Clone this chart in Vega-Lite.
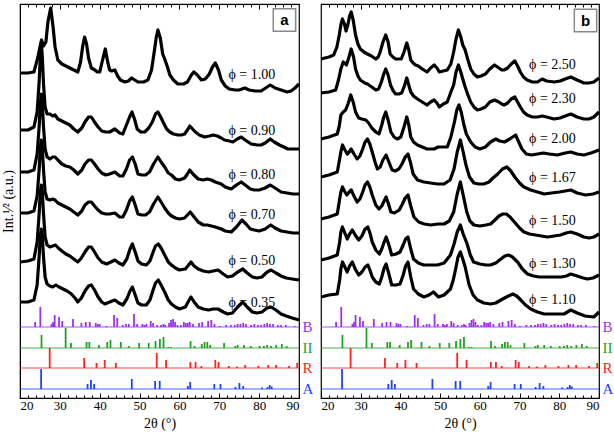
{
"$schema": "https://vega.github.io/schema/vega-lite/v6.json",
"background": "white",
"padding": {"left": 0, "top": 2, "right": 0, "bottom": 0},
"spacing": 3,
"resolve": {"scale": {"y": "independent", "x": "independent", "color": "shared"}},
"config": {
  "view": {"stroke": "black", "strokeWidth": 1.2},
  "axis": {"grid": false, "domain": false, "tickColor": "black", "labelColor": "black", "titleColor": "black", "labelFont": "Liberation Serif", "titleFont": "Liberation Serif", "titleFontWeight": "normal"},
  "text": {"font": "Liberation Serif"}
},
"datasets": {
  "ca": [
    {"s":"1.00","t":20,"y":329},{"s":"1.00","t":22,"y":329},{"s":"1.00","t":23.5,"y":330},{"s":"1.00","t":24.5,"y":345},{"s":"1.00","t":25.0,"y":355},{"s":"1.00","t":25.4,"y":362},{"s":"1.00","t":25.9,"y":356},{"s":"1.00","t":26.5,"y":360},{"s":"1.00","t":27.0,"y":380},{"s":"1.00","t":27.7,"y":394},{"s":"1.00","t":28.3,"y":375},{"s":"1.00","t":28.8,"y":355},{"s":"1.00","t":29.5,"y":342},{"s":"1.00","t":30.5,"y":338},{"s":"1.00","t":31.5,"y":336},{"s":"1.00","t":32.5,"y":334},{"s":"1.00","t":33.5,"y":332},{"s":"1.00","t":34.5,"y":330},{"s":"1.00","t":35.2,"y":340},{"s":"1.00","t":35.7,"y":355},{"s":"1.00","t":36.2,"y":365},{"s":"1.00","t":36.7,"y":358},{"s":"1.00","t":37.2,"y":344},{"s":"1.00","t":37.9,"y":334},{"s":"1.00","t":38.8,"y":332},{"s":"1.00","t":39.4,"y":330},{"s":"1.00","t":40.0,"y":330},{"s":"1.00","t":40.6,"y":340},{"s":"1.00","t":41.4,"y":353},{"s":"1.00","t":42.0,"y":340},{"s":"1.00","t":42.5,"y":332},{"s":"1.00","t":43.0,"y":331},{"s":"1.00","t":43.8,"y":332},{"s":"1.00","t":44.5,"y":326},{"s":"1.00","t":45.2,"y":322},{"s":"1.00","t":46.3,"y":320},{"s":"1.00","t":47.2,"y":321},{"s":"1.00","t":48.0,"y":324},{"s":"1.00","t":48.8,"y":322},{"s":"1.00","t":49.6,"y":320},{"s":"1.00","t":51.0,"y":320},{"s":"1.00","t":52.1,"y":322},{"s":"1.00","t":53.0,"y":332},{"s":"1.00","t":53.6,"y":348},{"s":"1.00","t":54.2,"y":365},{"s":"1.00","t":54.6,"y":372},{"s":"1.00","t":55.2,"y":364},{"s":"1.00","t":55.8,"y":348},{"s":"1.00","t":56.3,"y":343},{"s":"1.00","t":57.0,"y":335},{"s":"1.00","t":57.6,"y":327},{"s":"1.00","t":58.5,"y":322},{"s":"1.00","t":59.6,"y":318},{"s":"1.00","t":61.0,"y":318},{"s":"1.00","t":62.0,"y":320},{"s":"1.00","t":63.0,"y":327},{"s":"1.00","t":63.6,"y":330},{"s":"1.00","t":64.5,"y":327},{"s":"1.00","t":65.5,"y":322},{"s":"1.00","t":66.5,"y":323},{"s":"1.00","t":67.5,"y":328},{"s":"1.00","t":68.3,"y":335},{"s":"1.00","t":69.0,"y":339},{"s":"1.00","t":69.8,"y":332},{"s":"1.00","t":70.5,"y":322},{"s":"1.00","t":71.5,"y":316},{"s":"1.00","t":72.5,"y":313},{"s":"1.00","t":74.0,"y":312},{"s":"1.00","t":75.0,"y":312},{"s":"1.00","t":76.4,"y":314},{"s":"1.00","t":77.5,"y":312},{"s":"1.00","t":79.0,"y":311},{"s":"1.00","t":80.5,"y":311},{"s":"1.00","t":82.0,"y":315},{"s":"1.00","t":82.8,"y":317},{"s":"1.00","t":84.0,"y":314},{"s":"1.00","t":85.5,"y":312},{"s":"1.00","t":87.0,"y":310},{"s":"1.00","t":88.0,"y":311},{"s":"1.00","t":89.0,"y":314},{"s":"1.00","t":90.0,"y":318},
    {"s":"0.90","t":20,"y":272},{"s":"0.90","t":22,"y":272},{"s":"0.90","t":23.5,"y":275},{"s":"0.90","t":24.3,"y":290},{"s":"0.90","t":24.8,"y":320},{"s":"0.90","t":25.1,"y":345},{"s":"0.90","t":25.35,"y":360},{"s":"0.90","t":25.6,"y":345},{"s":"0.90","t":25.9,"y":318},{"s":"0.90","t":26.3,"y":295},{"s":"0.90","t":26.8,"y":288},{"s":"0.90","t":27.5,"y":288},{"s":"0.90","t":28.2,"y":286},{"s":"0.90","t":28.8,"y":287},{"s":"0.90","t":29.5,"y":283},{"s":"0.90","t":30.5,"y":281},{"s":"0.90","t":31.5,"y":279},{"s":"0.90","t":32.5,"y":277},{"s":"0.90","t":33.5,"y":273},{"s":"0.90","t":34.5,"y":270},{"s":"0.90","t":35.5,"y":274},{"s":"0.90","t":36.3,"y":280},{"s":"0.90","t":37.2,"y":285},{"s":"0.90","t":37.9,"y":285},{"s":"0.90","t":38.7,"y":280},{"s":"0.90","t":39.6,"y":275},{"s":"0.90","t":40.5,"y":271},{"s":"0.90","t":41.5,"y":270},{"s":"0.90","t":42.5,"y":270},{"s":"0.90","t":43.8,"y":273},{"s":"0.90","t":45.0,"y":269},{"s":"0.90","t":45.8,"y":268},{"s":"0.90","t":46.7,"y":277},{"s":"0.90","t":47.5,"y":285},{"s":"0.90","t":48.1,"y":290},{"s":"0.90","t":48.8,"y":282},{"s":"0.90","t":49.4,"y":273},{"s":"0.90","t":50.3,"y":270},{"s":"0.90","t":51.3,"y":270},{"s":"0.90","t":52.3,"y":274},{"s":"0.90","t":53.2,"y":280},{"s":"0.90","t":54.0,"y":288},{"s":"0.90","t":54.6,"y":290},{"s":"0.90","t":55.3,"y":285},{"s":"0.90","t":55.9,"y":280},{"s":"0.90","t":56.8,"y":273},{"s":"0.90","t":57.6,"y":270},{"s":"0.90","t":58.5,"y":268},{"s":"0.90","t":59.6,"y":267},{"s":"0.90","t":60.5,"y":267},{"s":"0.90","t":61.3,"y":268},{"s":"0.90","t":62.0,"y":272},{"s":"0.90","t":62.6,"y":276},{"s":"0.90","t":63.3,"y":273},{"s":"0.90","t":64.0,"y":270},{"s":"0.90","t":65.0,"y":267},{"s":"0.90","t":66.3,"y":265},{"s":"0.90","t":67.5,"y":266},{"s":"0.90","t":68.5,"y":267},{"s":"0.90","t":69.5,"y":266},{"s":"0.90","t":70.5,"y":264},{"s":"0.90","t":71.3,"y":262},{"s":"0.90","t":72.5,"y":261},{"s":"0.90","t":73.4,"y":260},{"s":"0.90","t":74.5,"y":263},{"s":"0.90","t":75.5,"y":265},{"s":"0.90","t":76.5,"y":262},{"s":"0.90","t":78.0,"y":258},{"s":"0.90","t":79.5,"y":257},{"s":"0.90","t":80.5,"y":257},{"s":"0.90","t":81.5,"y":259},{"s":"0.90","t":82.8,"y":263},{"s":"0.90","t":83.8,"y":260},{"s":"0.90","t":85.1,"y":257},{"s":"0.90","t":86.2,"y":255},{"s":"0.90","t":87.2,"y":253},{"s":"0.90","t":88.5,"y":253},{"s":"0.90","t":90,"y":253},
    {"s":"0.80","t":20,"y":230},{"s":"0.80","t":22,"y":230},{"s":"0.80","t":23.5,"y":232},{"s":"0.80","t":24.3,"y":248},{"s":"0.80","t":24.8,"y":275},{"s":"0.80","t":25.1,"y":298},{"s":"0.80","t":25.35,"y":308},{"s":"0.80","t":25.6,"y":298},{"s":"0.80","t":25.9,"y":275},{"s":"0.80","t":26.3,"y":253},{"s":"0.80","t":26.8,"y":245},{"s":"0.80","t":27.5,"y":243},{"s":"0.80","t":28.2,"y":245},{"s":"0.80","t":28.8,"y":245},{"s":"0.80","t":29.5,"y":242},{"s":"0.80","t":30.5,"y":238},{"s":"0.80","t":31.5,"y":236},{"s":"0.80","t":32.5,"y":235},{"s":"0.80","t":33.5,"y":232},{"s":"0.80","t":34.5,"y":228},{"s":"0.80","t":35.5,"y":232},{"s":"0.80","t":36.3,"y":238},{"s":"0.80","t":37.2,"y":242},{"s":"0.80","t":37.9,"y":242},{"s":"0.80","t":38.7,"y":238},{"s":"0.80","t":39.6,"y":233},{"s":"0.80","t":40.5,"y":229},{"s":"0.80","t":41.5,"y":227},{"s":"0.80","t":42.5,"y":228},{"s":"0.80","t":43.8,"y":230},{"s":"0.80","t":45.0,"y":226},{"s":"0.80","t":45.8,"y":226},{"s":"0.80","t":46.7,"y":233},{"s":"0.80","t":47.5,"y":242},{"s":"0.80","t":48.2,"y":245},{"s":"0.80","t":48.9,"y":238},{"s":"0.80","t":49.6,"y":228},{"s":"0.80","t":50.5,"y":227},{"s":"0.80","t":51.5,"y":227},{"s":"0.80","t":52.5,"y":230},{"s":"0.80","t":53.5,"y":238},{"s":"0.80","t":54.6,"y":245},{"s":"0.80","t":55.4,"y":240},{"s":"0.80","t":56.3,"y":235},{"s":"0.80","t":57.2,"y":229},{"s":"0.80","t":58.0,"y":227},{"s":"0.80","t":59.0,"y":223},{"s":"0.80","t":60.0,"y":222},{"s":"0.80","t":61.3,"y":224},{"s":"0.80","t":62.0,"y":228},{"s":"0.80","t":62.6,"y":232},{"s":"0.80","t":63.4,"y":228},{"s":"0.80","t":64.7,"y":223},{"s":"0.80","t":66.0,"y":222},{"s":"0.80","t":67.0,"y":223},{"s":"0.80","t":68.0,"y":222},{"s":"0.80","t":69.0,"y":220},{"s":"0.80","t":70.5,"y":218},{"s":"0.80","t":71.5,"y":215},{"s":"0.80","t":73.0,"y":213},{"s":"0.80","t":74.3,"y":217},{"s":"0.80","t":75.5,"y":220},{"s":"0.80","t":76.5,"y":217},{"s":"0.80","t":77.8,"y":213},{"s":"0.80","t":78.8,"y":212},{"s":"0.80","t":80.0,"y":212},{"s":"0.80","t":81.5,"y":214},{"s":"0.80","t":82.8,"y":217},{"s":"0.80","t":84.0,"y":214},{"s":"0.80","t":85.5,"y":210},{"s":"0.80","t":87.0,"y":209},{"s":"0.80","t":88.5,"y":208},{"s":"0.80","t":90,"y":208},
    {"s":"0.70","t":20,"y":189},{"s":"0.70","t":22,"y":189},{"s":"0.70","t":23.5,"y":191},{"s":"0.70","t":24.3,"y":206},{"s":"0.70","t":24.8,"y":232},{"s":"0.70","t":25.1,"y":254},{"s":"0.70","t":25.35,"y":262},{"s":"0.70","t":25.6,"y":254},{"s":"0.70","t":25.9,"y":232},{"s":"0.70","t":26.3,"y":210},{"s":"0.70","t":26.8,"y":203},{"s":"0.70","t":27.5,"y":202},{"s":"0.70","t":28.2,"y":203},{"s":"0.70","t":28.8,"y":202},{"s":"0.70","t":29.5,"y":199},{"s":"0.70","t":30.5,"y":197},{"s":"0.70","t":31.5,"y":195},{"s":"0.70","t":32.5,"y":193},{"s":"0.70","t":33.5,"y":190},{"s":"0.70","t":34.5,"y":187},{"s":"0.70","t":35.5,"y":191},{"s":"0.70","t":36.3,"y":197},{"s":"0.70","t":37.2,"y":200},{"s":"0.70","t":37.9,"y":200},{"s":"0.70","t":38.7,"y":196},{"s":"0.70","t":39.6,"y":192},{"s":"0.70","t":40.5,"y":189},{"s":"0.70","t":41.5,"y":188},{"s":"0.70","t":42.5,"y":188},{"s":"0.70","t":43.8,"y":189},{"s":"0.70","t":45.0,"y":185},{"s":"0.70","t":45.8,"y":185},{"s":"0.70","t":46.7,"y":192},{"s":"0.70","t":47.5,"y":201},{"s":"0.70","t":48.2,"y":205},{"s":"0.70","t":48.9,"y":197},{"s":"0.70","t":49.6,"y":188},{"s":"0.70","t":50.5,"y":187},{"s":"0.70","t":51.5,"y":187},{"s":"0.70","t":52.5,"y":190},{"s":"0.70","t":53.5,"y":198},{"s":"0.70","t":54.6,"y":205},{"s":"0.70","t":55.4,"y":200},{"s":"0.70","t":56.3,"y":194},{"s":"0.70","t":57.2,"y":189},{"s":"0.70","t":58.0,"y":186},{"s":"0.70","t":59.0,"y":184},{"s":"0.70","t":60.0,"y":183},{"s":"0.70","t":61.3,"y":184},{"s":"0.70","t":62.0,"y":187},{"s":"0.70","t":62.7,"y":190},{"s":"0.70","t":63.5,"y":186},{"s":"0.70","t":64.7,"y":180},{"s":"0.70","t":66.0,"y":177},{"s":"0.70","t":67.0,"y":177},{"s":"0.70","t":68.0,"y":176},{"s":"0.70","t":69.0,"y":175},{"s":"0.70","t":70.5,"y":173},{"s":"0.70","t":71.5,"y":171},{"s":"0.70","t":73.0,"y":170},{"s":"0.70","t":74.3,"y":175},{"s":"0.70","t":75.7,"y":182},{"s":"0.70","t":76.7,"y":178},{"s":"0.70","t":77.8,"y":173},{"s":"0.70","t":78.8,"y":172},{"s":"0.70","t":80.0,"y":171},{"s":"0.70","t":81.5,"y":173},{"s":"0.70","t":82.9,"y":177},{"s":"0.70","t":84.0,"y":174},{"s":"0.70","t":85.5,"y":171},{"s":"0.70","t":87.0,"y":170},{"s":"0.70","t":88.5,"y":169},{"s":"0.70","t":90,"y":169},
    {"s":"0.50","t":20,"y":140},{"s":"0.50","t":22,"y":141},{"s":"0.50","t":23.5,"y":143},{"s":"0.50","t":24.3,"y":160},{"s":"0.50","t":24.8,"y":188},{"s":"0.50","t":25.1,"y":210},{"s":"0.50","t":25.35,"y":217},{"s":"0.50","t":25.6,"y":210},{"s":"0.50","t":25.9,"y":188},{"s":"0.50","t":26.3,"y":165},{"s":"0.50","t":26.8,"y":157},{"s":"0.50","t":27.5,"y":155},{"s":"0.50","t":28.2,"y":156},{"s":"0.50","t":28.9,"y":157},{"s":"0.50","t":29.6,"y":154},{"s":"0.50","t":30.5,"y":151},{"s":"0.50","t":31.5,"y":148},{"s":"0.50","t":32.5,"y":146},{"s":"0.50","t":33.5,"y":143},{"s":"0.50","t":34.5,"y":140},{"s":"0.50","t":35.4,"y":144},{"s":"0.50","t":36.3,"y":150},{"s":"0.50","t":37.2,"y":155},{"s":"0.50","t":37.9,"y":155},{"s":"0.50","t":38.7,"y":150},{"s":"0.50","t":39.6,"y":144},{"s":"0.50","t":40.5,"y":140},{"s":"0.50","t":41.7,"y":138},{"s":"0.50","t":42.8,"y":140},{"s":"0.50","t":43.8,"y":142},{"s":"0.50","t":44.8,"y":139},{"s":"0.50","t":45.8,"y":137},{"s":"0.50","t":46.8,"y":143},{"s":"0.50","t":47.6,"y":153},{"s":"0.50","t":48.2,"y":158},{"s":"0.50","t":48.9,"y":150},{"s":"0.50","t":49.6,"y":141},{"s":"0.50","t":50.5,"y":138},{"s":"0.50","t":51.7,"y":137},{"s":"0.50","t":52.6,"y":141},{"s":"0.50","t":53.4,"y":150},{"s":"0.50","t":54.0,"y":156},{"s":"0.50","t":54.7,"y":158},{"s":"0.50","t":55.4,"y":154},{"s":"0.50","t":56.3,"y":147},{"s":"0.50","t":57.2,"y":140},{"s":"0.50","t":58.0,"y":137},{"s":"0.50","t":59.0,"y":134},{"s":"0.50","t":60.0,"y":132},{"s":"0.50","t":61.5,"y":133},{"s":"0.50","t":62.3,"y":137},{"s":"0.50","t":62.9,"y":140},{"s":"0.50","t":63.7,"y":136},{"s":"0.50","t":64.7,"y":133},{"s":"0.50","t":66.0,"y":131},{"s":"0.50","t":67.3,"y":130},{"s":"0.50","t":68.5,"y":131},{"s":"0.50","t":69.7,"y":132},{"s":"0.50","t":71.0,"y":128},{"s":"0.50","t":72.1,"y":125},{"s":"0.50","t":73.3,"y":126},{"s":"0.50","t":74.6,"y":130},{"s":"0.50","t":75.9,"y":133},{"s":"0.50","t":77.0,"y":129},{"s":"0.50","t":78.3,"y":125},{"s":"0.50","t":79.5,"y":124},{"s":"0.50","t":80.7,"y":125},{"s":"0.50","t":82.0,"y":130},{"s":"0.50","t":83.0,"y":132},{"s":"0.50","t":84.2,"y":129},{"s":"0.50","t":85.5,"y":126},{"s":"0.50","t":86.8,"y":124},{"s":"0.50","t":88.3,"y":123},{"s":"0.50","t":90,"y":122},
    {"s":"0.35","t":20,"y":100},{"s":"0.35","t":22,"y":100},{"s":"0.35","t":23.5,"y":102},{"s":"0.35","t":24.3,"y":117},{"s":"0.35","t":24.8,"y":145},{"s":"0.35","t":25.1,"y":166},{"s":"0.35","t":25.35,"y":173},{"s":"0.35","t":25.6,"y":166},{"s":"0.35","t":25.9,"y":145},{"s":"0.35","t":26.3,"y":125},{"s":"0.35","t":26.8,"y":118},{"s":"0.35","t":27.5,"y":116},{"s":"0.35","t":28.2,"y":115},{"s":"0.35","t":29.0,"y":117},{"s":"0.35","t":29.8,"y":115},{"s":"0.35","t":30.8,"y":113},{"s":"0.35","t":31.8,"y":111},{"s":"0.35","t":32.9,"y":108},{"s":"0.35","t":33.8,"y":104},{"s":"0.35","t":34.5,"y":100},{"s":"0.35","t":35.4,"y":104},{"s":"0.35","t":36.3,"y":111},{"s":"0.35","t":37.2,"y":116},{"s":"0.35","t":37.9,"y":117},{"s":"0.35","t":38.7,"y":112},{"s":"0.35","t":39.6,"y":105},{"s":"0.35","t":40.5,"y":100},{"s":"0.35","t":41.3,"y":98},{"s":"0.35","t":42.5,"y":100},{"s":"0.35","t":43.8,"y":102},{"s":"0.35","t":44.8,"y":99},{"s":"0.35","t":45.8,"y":97},{"s":"0.35","t":46.8,"y":103},{"s":"0.35","t":47.6,"y":111},{"s":"0.35","t":48.2,"y":115},{"s":"0.35","t":48.9,"y":107},{"s":"0.35","t":49.6,"y":99},{"s":"0.35","t":50.5,"y":97},{"s":"0.35","t":51.7,"y":97},{"s":"0.35","t":52.6,"y":102},{"s":"0.35","t":53.4,"y":112},{"s":"0.35","t":54.0,"y":119},{"s":"0.35","t":54.7,"y":122},{"s":"0.35","t":55.4,"y":117},{"s":"0.35","t":56.3,"y":110},{"s":"0.35","t":57.2,"y":102},{"s":"0.35","t":58.0,"y":98},{"s":"0.35","t":59.0,"y":95},{"s":"0.35","t":60.0,"y":93},{"s":"0.35","t":61.5,"y":95},{"s":"0.35","t":62.3,"y":101},{"s":"0.35","t":62.9,"y":105},{"s":"0.35","t":63.7,"y":100},{"s":"0.35","t":64.7,"y":95},{"s":"0.35","t":66.0,"y":93},{"s":"0.35","t":67.3,"y":92},{"s":"0.35","t":68.5,"y":93},{"s":"0.35","t":69.7,"y":93},{"s":"0.35","t":71.0,"y":90},{"s":"0.35","t":72.1,"y":88},{"s":"0.35","t":73.3,"y":89},{"s":"0.35","t":74.6,"y":95},{"s":"0.35","t":75.9,"y":100},{"s":"0.35","t":77.0,"y":95},{"s":"0.35","t":78.3,"y":90},{"s":"0.35","t":79.5,"y":89},{"s":"0.35","t":80.7,"y":90},{"s":"0.35","t":82.0,"y":94},{"s":"0.35","t":83.0,"y":95},{"s":"0.35","t":84.2,"y":92},{"s":"0.35","t":85.5,"y":88},{"s":"0.35","t":86.8,"y":86},{"s":"0.35","t":88.3,"y":84},{"s":"0.35","t":90,"y":82}
  ],
  "cb": [
    {"s":"2.50","t":20,"y":343},{"s":"2.50","t":22,"y":345},{"s":"2.50","t":23.2,"y":347},{"s":"2.50","t":24.0,"y":355},{"s":"2.50","t":24.6,"y":367},{"s":"2.50","t":25.0,"y":377},{"s":"2.50","t":25.4,"y":383},{"s":"2.50","t":25.9,"y":378},{"s":"2.50","t":26.3,"y":371},{"s":"2.50","t":26.8,"y":378},{"s":"2.50","t":27.2,"y":386},{"s":"2.50","t":27.6,"y":390},{"s":"2.50","t":28.1,"y":382},{"s":"2.50","t":28.7,"y":367},{"s":"2.50","t":29.3,"y":358},{"s":"2.50","t":29.9,"y":353},{"s":"2.50","t":30.8,"y":350},{"s":"2.50","t":31.7,"y":348},{"s":"2.50","t":32.7,"y":346},{"s":"2.50","t":33.8,"y":343},{"s":"2.50","t":34.4,"y":345},{"s":"2.50","t":34.9,"y":350},{"s":"2.50","t":35.6,"y":360},{"s":"2.50","t":36.3,"y":367},{"s":"2.50","t":36.9,"y":360},{"s":"2.50","t":37.4,"y":348},{"s":"2.50","t":38.1,"y":345},{"s":"2.50","t":38.8,"y":343},{"s":"2.50","t":39.5,"y":343},{"s":"2.50","t":40.2,"y":343},{"s":"2.50","t":40.9,"y":350},{"s":"2.50","t":41.6,"y":359},{"s":"2.50","t":42.1,"y":352},{"s":"2.50","t":42.6,"y":342},{"s":"2.50","t":43.2,"y":339},{"s":"2.50","t":43.8,"y":337},{"s":"2.50","t":44.5,"y":336},{"s":"2.50","t":45.5,"y":333},{"s":"2.50","t":46.7,"y":330},{"s":"2.50","t":47.6,"y":334},{"s":"2.50","t":48.5,"y":337},{"s":"2.50","t":49.2,"y":334},{"s":"2.50","t":49.8,"y":330},{"s":"2.50","t":50.8,"y":331},{"s":"2.50","t":51.8,"y":332},{"s":"2.50","t":52.7,"y":338},{"s":"2.50","t":53.4,"y":350},{"s":"2.50","t":54.0,"y":363},{"s":"2.50","t":54.6,"y":372},{"s":"2.50","t":55.2,"y":365},{"s":"2.50","t":55.7,"y":357},{"s":"2.50","t":56.3,"y":352},{"s":"2.50","t":57.0,"y":342},{"s":"2.50","t":57.7,"y":333},{"s":"2.50","t":58.5,"y":328},{"s":"2.50","t":59.4,"y":325},{"s":"2.50","t":60.3,"y":326},{"s":"2.50","t":61.4,"y":328},{"s":"2.50","t":62.5,"y":333},{"s":"2.50","t":63.7,"y":337},{"s":"2.50","t":64.8,"y":334},{"s":"2.50","t":65.5,"y":332},{"s":"2.50","t":66.1,"y":332},{"s":"2.50","t":67.0,"y":334},{"s":"2.50","t":67.9,"y":338},{"s":"2.50","t":68.8,"y":341},{"s":"2.50","t":69.5,"y":336},{"s":"2.50","t":70.2,"y":330},{"s":"2.50","t":71.0,"y":325},{"s":"2.50","t":71.9,"y":322},{"s":"2.50","t":73.2,"y":320},{"s":"2.50","t":74.5,"y":320},{"s":"2.50","t":75.7,"y":323},{"s":"2.50","t":76.8,"y":321},{"s":"2.50","t":78.7,"y":320},{"s":"2.50","t":80.2,"y":321},{"s":"2.50","t":81.5,"y":323},{"s":"2.50","t":82.9,"y":325},{"s":"2.50","t":84.5,"y":322},{"s":"2.50","t":86.2,"y":319},{"s":"2.50","t":87.5,"y":319},{"s":"2.50","t":88.7,"y":320},{"s":"2.50","t":90,"y":324},
    {"s":"2.30","t":20,"y":309},{"s":"2.30","t":22,"y":310},{"s":"2.30","t":23.7,"y":312},{"s":"2.30","t":24.4,"y":322},{"s":"2.30","t":25.0,"y":333},{"s":"2.30","t":25.6,"y":340},{"s":"2.30","t":26.0,"y":339},{"s":"2.30","t":26.4,"y":337},{"s":"2.30","t":26.9,"y":343},{"s":"2.30","t":27.6,"y":353},{"s":"2.30","t":28.2,"y":345},{"s":"2.30","t":28.7,"y":333},{"s":"2.30","t":29.3,"y":326},{"s":"2.30","t":29.9,"y":322},{"s":"2.30","t":31.0,"y":319},{"s":"2.30","t":31.7,"y":318},{"s":"2.30","t":32.8,"y":315},{"s":"2.30","t":33.8,"y":312},{"s":"2.30","t":34.5,"y":313},{"s":"2.30","t":35.2,"y":320},{"s":"2.30","t":35.8,"y":328},{"s":"2.30","t":36.3,"y":333},{"s":"2.30","t":36.9,"y":327},{"s":"2.30","t":37.5,"y":317},{"s":"2.30","t":38.2,"y":311},{"s":"2.30","t":38.8,"y":308},{"s":"2.30","t":39.6,"y":308},{"s":"2.30","t":40.3,"y":309},{"s":"2.30","t":41.0,"y":316},{"s":"2.30","t":41.6,"y":324},{"s":"2.30","t":42.1,"y":317},{"s":"2.30","t":42.6,"y":310},{"s":"2.30","t":43.3,"y":306},{"s":"2.30","t":44.3,"y":303},{"s":"2.30","t":45.5,"y":300},{"s":"2.30","t":46.7,"y":297},{"s":"2.30","t":47.6,"y":300},{"s":"2.30","t":48.5,"y":302},{"s":"2.30","t":49.2,"y":299},{"s":"2.30","t":49.8,"y":295},{"s":"2.30","t":50.8,"y":298},{"s":"2.30","t":51.8,"y":300},{"s":"2.30","t":52.7,"y":310},{"s":"2.30","t":53.4,"y":317},{"s":"2.30","t":54.0,"y":330},{"s":"2.30","t":54.6,"y":337},{"s":"2.30","t":55.2,"y":330},{"s":"2.30","t":55.7,"y":323},{"s":"2.30","t":56.3,"y":315},{"s":"2.30","t":57.0,"y":307},{"s":"2.30","t":57.7,"y":300},{"s":"2.30","t":58.5,"y":295},{"s":"2.30","t":59.4,"y":292},{"s":"2.30","t":60.3,"y":293},{"s":"2.30","t":61.4,"y":295},{"s":"2.30","t":62.5,"y":300},{"s":"2.30","t":63.7,"y":302},{"s":"2.30","t":64.8,"y":300},{"s":"2.30","t":65.5,"y":298},{"s":"2.30","t":66.1,"y":297},{"s":"2.30","t":67.0,"y":299},{"s":"2.30","t":67.9,"y":303},{"s":"2.30","t":68.8,"y":305},{"s":"2.30","t":69.5,"y":300},{"s":"2.30","t":70.2,"y":295},{"s":"2.30","t":71.0,"y":290},{"s":"2.30","t":71.9,"y":287},{"s":"2.30","t":73.2,"y":285},{"s":"2.30","t":74.5,"y":285},{"s":"2.30","t":75.7,"y":286},{"s":"2.30","t":76.8,"y":285},{"s":"2.30","t":78.7,"y":283},{"s":"2.30","t":80.2,"y":284},{"s":"2.30","t":81.5,"y":286},{"s":"2.30","t":82.9,"y":288},{"s":"2.30","t":84.5,"y":285},{"s":"2.30","t":86.2,"y":283},{"s":"2.30","t":87.5,"y":283},{"s":"2.30","t":88.7,"y":285},{"s":"2.30","t":90,"y":290},
    {"s":"2.00","t":20,"y":263},{"s":"2.00","t":22,"y":265},{"s":"2.00","t":24.1,"y":268},{"s":"2.00","t":24.6,"y":276},{"s":"2.00","t":25.0,"y":287},{"s":"2.00","t":25.6,"y":290},{"s":"2.00","t":26.2,"y":292},{"s":"2.00","t":26.8,"y":298},{"s":"2.00","t":27.5,"y":307},{"s":"2.00","t":28.1,"y":300},{"s":"2.00","t":28.7,"y":290},{"s":"2.00","t":29.5,"y":284},{"s":"2.00","t":30.3,"y":283},{"s":"2.00","t":31.3,"y":282},{"s":"2.00","t":32.0,"y":279},{"s":"2.00","t":32.8,"y":274},{"s":"2.00","t":33.8,"y":270},{"s":"2.00","t":34.6,"y":268},{"s":"2.00","t":35.3,"y":277},{"s":"2.00","t":35.8,"y":285},{"s":"2.00","t":36.3,"y":290},{"s":"2.00","t":36.9,"y":282},{"s":"2.00","t":37.6,"y":270},{"s":"2.00","t":38.4,"y":265},{"s":"2.00","t":39.2,"y":263},{"s":"2.00","t":40.1,"y":265},{"s":"2.00","t":40.9,"y":275},{"s":"2.00","t":41.6,"y":285},{"s":"2.00","t":42.1,"y":277},{"s":"2.00","t":42.6,"y":265},{"s":"2.00","t":43.3,"y":260},{"s":"2.00","t":44.3,"y":257},{"s":"2.00","t":45.5,"y":255},{"s":"2.00","t":46.7,"y":253},{"s":"2.00","t":48.5,"y":253},{"s":"2.00","t":49.5,"y":255},{"s":"2.00","t":50.5,"y":255},{"s":"2.00","t":51.8,"y":255},{"s":"2.00","t":52.7,"y":265},{"s":"2.00","t":53.6,"y":280},{"s":"2.00","t":54.2,"y":292},{"s":"2.00","t":54.75,"y":297},{"s":"2.00","t":55.3,"y":290},{"s":"2.00","t":56.0,"y":277},{"s":"2.00","t":56.6,"y":268},{"s":"2.00","t":57.7,"y":260},{"s":"2.00","t":58.8,"y":255},{"s":"2.00","t":60.0,"y":253},{"s":"2.00","t":61.4,"y":255},{"s":"2.00","t":62.7,"y":260},{"s":"2.00","t":64.0,"y":263},{"s":"2.00","t":65.0,"y":261},{"s":"2.00","t":66.2,"y":260},{"s":"2.00","t":67.5,"y":263},{"s":"2.00","t":69.0,"y":267},{"s":"2.00","t":69.8,"y":260},{"s":"2.00","t":70.6,"y":253},{"s":"2.00","t":71.7,"y":248},{"s":"2.00","t":73.0,"y":247},{"s":"2.00","t":74.5,"y":248},{"s":"2.00","t":76.0,"y":249},{"s":"2.00","t":77.5,"y":248},{"s":"2.00","t":79.5,"y":247},{"s":"2.00","t":81.5,"y":249},{"s":"2.00","t":82.9,"y":250},{"s":"2.00","t":84.5,"y":248},{"s":"2.00","t":86.2,"y":247},{"s":"2.00","t":88.0,"y":249},{"s":"2.00","t":90,"y":252},
    {"s":"1.67","t":20,"y":225},{"s":"1.67","t":22,"y":227},{"s":"1.67","t":24.1,"y":230},{"s":"1.67","t":24.7,"y":243},{"s":"1.67","t":25.0,"y":250},{"s":"1.67","t":25.4,"y":257},{"s":"1.67","t":25.9,"y":253},{"s":"1.67","t":26.6,"y":248},{"s":"1.67","t":27.1,"y":250},{"s":"1.67","t":27.6,"y":253},{"s":"1.67","t":28.3,"y":248},{"s":"1.67","t":29.1,"y":243},{"s":"1.67","t":29.8,"y":246},{"s":"1.67","t":30.5,"y":253},{"s":"1.67","t":31.1,"y":260},{"s":"1.67","t":31.7,"y":263},{"s":"1.67","t":32.3,"y":258},{"s":"1.67","t":32.9,"y":250},{"s":"1.67","t":33.6,"y":240},{"s":"1.67","t":34.2,"y":233},{"s":"1.67","t":34.9,"y":235},{"s":"1.67","t":35.6,"y":242},{"s":"1.67","t":36.4,"y":247},{"s":"1.67","t":37.1,"y":240},{"s":"1.67","t":37.9,"y":232},{"s":"1.67","t":38.7,"y":231},{"s":"1.67","t":39.6,"y":233},{"s":"1.67","t":40.4,"y":238},{"s":"1.67","t":41.2,"y":245},{"s":"1.67","t":41.9,"y":248},{"s":"1.67","t":42.5,"y":240},{"s":"1.67","t":43.2,"y":228},{"s":"1.67","t":44.3,"y":222},{"s":"1.67","t":45.9,"y":220},{"s":"1.67","t":47.6,"y":219},{"s":"1.67","t":49.3,"y":218},{"s":"1.67","t":51.0,"y":218},{"s":"1.67","t":52.5,"y":222},{"s":"1.67","t":53.5,"y":233},{"s":"1.67","t":54.3,"y":250},{"s":"1.67","t":55.1,"y":262},{"s":"1.67","t":55.8,"y":250},{"s":"1.67","t":56.5,"y":237},{"s":"1.67","t":57.4,"y":225},{"s":"1.67","t":58.5,"y":219},{"s":"1.67","t":59.7,"y":218},{"s":"1.67","t":61.0,"y":218},{"s":"1.67","t":62.3,"y":220},{"s":"1.67","t":63.3,"y":224},{"s":"1.67","t":64.5,"y":228},{"s":"1.67","t":65.7,"y":233},{"s":"1.67","t":66.8,"y":235},{"s":"1.67","t":67.8,"y":231},{"s":"1.67","t":68.8,"y":225},{"s":"1.67","t":70.0,"y":219},{"s":"1.67","t":71.1,"y":215},{"s":"1.67","t":72.8,"y":212},{"s":"1.67","t":74.5,"y":210},{"s":"1.67","t":76.2,"y":208},{"s":"1.67","t":78.0,"y":209},{"s":"1.67","t":80.0,"y":210},{"s":"1.67","t":81.5,"y":211},{"s":"1.67","t":82.9,"y":212},{"s":"1.67","t":84.5,"y":209},{"s":"1.67","t":86.6,"y":207},{"s":"1.67","t":88.5,"y":208},{"s":"1.67","t":90,"y":210},
    {"s":"1.50","t":20,"y":183},{"s":"1.50","t":22,"y":185},{"s":"1.50","t":24.1,"y":188},{"s":"1.50","t":24.7,"y":203},{"s":"1.50","t":25.0,"y":210},{"s":"1.50","t":25.4,"y":215},{"s":"1.50","t":25.9,"y":211},{"s":"1.50","t":26.5,"y":207},{"s":"1.50","t":27.1,"y":210},{"s":"1.50","t":27.6,"y":212},{"s":"1.50","t":28.3,"y":206},{"s":"1.50","t":29.1,"y":200},{"s":"1.50","t":29.8,"y":203},{"s":"1.50","t":30.5,"y":210},{"s":"1.50","t":31.1,"y":217},{"s":"1.50","t":31.7,"y":220},{"s":"1.50","t":32.3,"y":215},{"s":"1.50","t":32.9,"y":207},{"s":"1.50","t":33.8,"y":197},{"s":"1.50","t":34.6,"y":193},{"s":"1.50","t":35.3,"y":196},{"s":"1.50","t":35.9,"y":201},{"s":"1.50","t":36.4,"y":205},{"s":"1.50","t":37.0,"y":198},{"s":"1.50","t":37.6,"y":190},{"s":"1.50","t":38.5,"y":189},{"s":"1.50","t":39.7,"y":192},{"s":"1.50","t":40.5,"y":198},{"s":"1.50","t":41.2,"y":204},{"s":"1.50","t":41.9,"y":207},{"s":"1.50","t":42.6,"y":196},{"s":"1.50","t":43.4,"y":185},{"s":"1.50","t":44.6,"y":180},{"s":"1.50","t":46.0,"y":178},{"s":"1.50","t":47.6,"y":177},{"s":"1.50","t":49.5,"y":178},{"s":"1.50","t":51.0,"y":178},{"s":"1.50","t":52.3,"y":181},{"s":"1.50","t":53.4,"y":190},{"s":"1.50","t":54.3,"y":208},{"s":"1.50","t":55.1,"y":220},{"s":"1.50","t":55.8,"y":207},{"s":"1.50","t":56.7,"y":190},{"s":"1.50","t":57.5,"y":181},{"s":"1.50","t":58.5,"y":177},{"s":"1.50","t":60.0,"y":176},{"s":"1.50","t":61.5,"y":177},{"s":"1.50","t":62.7,"y":178},{"s":"1.50","t":63.8,"y":182},{"s":"1.50","t":64.8,"y":186},{"s":"1.50","t":65.8,"y":188},{"s":"1.50","t":66.7,"y":188},{"s":"1.50","t":67.6,"y":185},{"s":"1.50","t":68.7,"y":180},{"s":"1.50","t":70.0,"y":174},{"s":"1.50","t":71.1,"y":170},{"s":"1.50","t":72.5,"y":168},{"s":"1.50","t":74.0,"y":167},{"s":"1.50","t":75.5,"y":166},{"s":"1.50","t":77.0,"y":165},{"s":"1.50","t":78.7,"y":166},{"s":"1.50","t":80.3,"y":167},{"s":"1.50","t":81.7,"y":169},{"s":"1.50","t":82.9,"y":170},{"s":"1.50","t":84.5,"y":168},{"s":"1.50","t":86.2,"y":165},{"s":"1.50","t":87.5,"y":164},{"s":"1.50","t":88.7,"y":165},{"s":"1.50","t":90,"y":168},
    {"s":"1.30","t":20,"y":142},{"s":"1.30","t":22,"y":144},{"s":"1.30","t":24.1,"y":147},{"s":"1.30","t":24.7,"y":160},{"s":"1.30","t":25.0,"y":170},{"s":"1.30","t":25.4,"y":175},{"s":"1.30","t":25.9,"y":170},{"s":"1.30","t":26.6,"y":163},{"s":"1.30","t":27.2,"y":168},{"s":"1.30","t":27.9,"y":172},{"s":"1.30","t":28.6,"y":167},{"s":"1.30","t":29.5,"y":162},{"s":"1.30","t":30.3,"y":166},{"s":"1.30","t":31.1,"y":173},{"s":"1.30","t":31.8,"y":175},{"s":"1.30","t":32.4,"y":168},{"s":"1.30","t":32.9,"y":160},{"s":"1.30","t":33.8,"y":152},{"s":"1.30","t":34.7,"y":148},{"s":"1.30","t":35.3,"y":153},{"s":"1.30","t":35.9,"y":160},{"s":"1.30","t":36.4,"y":165},{"s":"1.30","t":37.1,"y":157},{"s":"1.30","t":37.8,"y":147},{"s":"1.30","t":38.9,"y":148},{"s":"1.30","t":39.9,"y":150},{"s":"1.30","t":40.7,"y":157},{"s":"1.30","t":41.3,"y":163},{"s":"1.30","t":41.9,"y":165},{"s":"1.30","t":42.6,"y":153},{"s":"1.30","t":43.3,"y":143},{"s":"1.30","t":44.5,"y":139},{"s":"1.30","t":45.9,"y":137},{"s":"1.30","t":47.5,"y":137},{"s":"1.30","t":49.3,"y":137},{"s":"1.30","t":51.0,"y":139},{"s":"1.30","t":52.6,"y":147},{"s":"1.30","t":53.5,"y":158},{"s":"1.30","t":54.3,"y":170},{"s":"1.30","t":55.1,"y":177},{"s":"1.30","t":55.8,"y":168},{"s":"1.30","t":56.8,"y":158},{"s":"1.30","t":57.6,"y":147},{"s":"1.30","t":58.4,"y":140},{"s":"1.30","t":60.0,"y":138},{"s":"1.30","t":61.5,"y":137},{"s":"1.30","t":62.7,"y":137},{"s":"1.30","t":64.0,"y":139},{"s":"1.30","t":65.3,"y":143},{"s":"1.30","t":66.3,"y":146},{"s":"1.30","t":67.2,"y":147},{"s":"1.30","t":68.2,"y":145},{"s":"1.30","t":69.5,"y":140},{"s":"1.30","t":70.7,"y":133},{"s":"1.30","t":72.0,"y":128},{"s":"1.30","t":73.5,"y":126},{"s":"1.30","t":75.0,"y":125},{"s":"1.30","t":76.5,"y":125},{"s":"1.30","t":78.5,"y":125},{"s":"1.30","t":80.5,"y":125},{"s":"1.30","t":81.8,"y":126},{"s":"1.30","t":82.9,"y":128},{"s":"1.30","t":84.5,"y":126},{"s":"1.30","t":86.0,"y":124},{"s":"1.30","t":87.1,"y":123},{"s":"1.30","t":88.5,"y":124},{"s":"1.30","t":90,"y":127},
    {"s":"1.10","t":20,"y":105},{"s":"1.10","t":22,"y":107},{"s":"1.10","t":24.1,"y":108},{"s":"1.10","t":24.7,"y":122},{"s":"1.10","t":25.0,"y":133},{"s":"1.10","t":25.4,"y":140},{"s":"1.10","t":25.9,"y":136},{"s":"1.10","t":26.6,"y":130},{"s":"1.10","t":27.2,"y":136},{"s":"1.10","t":27.9,"y":140},{"s":"1.10","t":28.6,"y":133},{"s":"1.10","t":29.5,"y":127},{"s":"1.10","t":30.3,"y":130},{"s":"1.10","t":31.1,"y":135},{"s":"1.10","t":31.8,"y":137},{"s":"1.10","t":32.4,"y":131},{"s":"1.10","t":32.9,"y":125},{"s":"1.10","t":33.8,"y":120},{"s":"1.10","t":34.7,"y":118},{"s":"1.10","t":35.3,"y":125},{"s":"1.10","t":35.9,"y":134},{"s":"1.10","t":36.4,"y":138},{"s":"1.10","t":37.1,"y":128},{"s":"1.10","t":37.8,"y":117},{"s":"1.10","t":38.9,"y":117},{"s":"1.10","t":39.9,"y":118},{"s":"1.10","t":40.7,"y":127},{"s":"1.10","t":41.3,"y":136},{"s":"1.10","t":41.9,"y":140},{"s":"1.10","t":42.6,"y":125},{"s":"1.10","t":43.3,"y":113},{"s":"1.10","t":44.5,"y":108},{"s":"1.10","t":45.9,"y":105},{"s":"1.10","t":47.2,"y":107},{"s":"1.10","t":48.3,"y":110},{"s":"1.10","t":49.6,"y":105},{"s":"1.10","t":51.0,"y":107},{"s":"1.10","t":52.6,"y":113},{"s":"1.10","t":53.3,"y":122},{"s":"1.10","t":53.9,"y":133},{"s":"1.10","t":54.5,"y":145},{"s":"1.10","t":55.1,"y":150},{"s":"1.10","t":55.7,"y":143},{"s":"1.10","t":56.3,"y":135},{"s":"1.10","t":57.3,"y":117},{"s":"1.10","t":58.3,"y":107},{"s":"1.10","t":59.4,"y":102},{"s":"1.10","t":61.0,"y":99},{"s":"1.10","t":62.7,"y":98},{"s":"1.10","t":64.0,"y":99},{"s":"1.10","t":65.3,"y":102},{"s":"1.10","t":66.7,"y":105},{"s":"1.10","t":68.3,"y":108},{"s":"1.10","t":69.3,"y":106},{"s":"1.10","t":70.3,"y":102},{"s":"1.10","t":71.5,"y":97},{"s":"1.10","t":72.8,"y":93},{"s":"1.10","t":74.5,"y":90},{"s":"1.10","t":76.2,"y":88},{"s":"1.10","t":78.5,"y":88},{"s":"1.10","t":81.2,"y":88},{"s":"1.10","t":82.9,"y":92},{"s":"1.10","t":84.5,"y":89},{"s":"1.10","t":86.5,"y":86},{"s":"1.10","t":88.7,"y":85},{"s":"1.10","t":90,"y":90}
  ],
  "bases": [
    {"ref":"B","base":75},{"ref":"II","base":54},{"ref":"R","base":34},{"ref":"A","base":13}
  ],
  "sticks": [
    {"ref":"A","t":25.3,"lo":13,"hi":33},{"ref":"A","t":36.95,"lo":13,"hi":18},{"ref":"A","t":37.8,"lo":13,"hi":22},{"ref":"A","t":38.6,"lo":13,"hi":18},{"ref":"A","t":48.05,"lo":13,"hi":23},{"ref":"A","t":53.9,"lo":13,"hi":21},{"ref":"A","t":55.05,"lo":13,"hi":21},{"ref":"A","t":62.1,"lo":13,"hi":16},{"ref":"A","t":62.7,"lo":13,"hi":20},{"ref":"A","t":68.75,"lo":13,"hi":18},{"ref":"A","t":70.3,"lo":13,"hi":18},{"ref":"A","t":74.05,"lo":13,"hi":15},{"ref":"A","t":75.05,"lo":13,"hi":19},{"ref":"A","t":76.0,"lo":13,"hi":16},{"ref":"A","t":80.7,"lo":13,"hi":14.5},{"ref":"A","t":82.1,"lo":13,"hi":15},{"ref":"A","t":82.65,"lo":13,"hi":17},{"ref":"A","t":83.15,"lo":13,"hi":15.5},
    {"ref":"R","t":27.45,"lo":34,"hi":54},{"ref":"R","t":36.1,"lo":34,"hi":44},{"ref":"R","t":39.2,"lo":34,"hi":39},{"ref":"R","t":41.25,"lo":34,"hi":42},{"ref":"R","t":44.05,"lo":34,"hi":39},{"ref":"R","t":54.3,"lo":34,"hi":49},{"ref":"R","t":56.65,"lo":34,"hi":42},{"ref":"R","t":62.75,"lo":34,"hi":40},{"ref":"R","t":64.05,"lo":34,"hi":40},{"ref":"R","t":65.5,"lo":34,"hi":36},{"ref":"R","t":69.0,"lo":34,"hi":42},{"ref":"R","t":69.8,"lo":34,"hi":40},{"ref":"R","t":72.4,"lo":34,"hi":36},{"ref":"R","t":74.4,"lo":34,"hi":35.5},{"ref":"R","t":76.5,"lo":34,"hi":37},{"ref":"R","t":79.8,"lo":34,"hi":36},{"ref":"R","t":82.3,"lo":34,"hi":37},{"ref":"R","t":84.25,"lo":34,"hi":37},{"ref":"R","t":87.5,"lo":34,"hi":36},{"ref":"R","t":89.55,"lo":34,"hi":39},
    {"ref":"II","t":25.4,"lo":54,"hi":67},{"ref":"II","t":31.45,"lo":54,"hi":74},{"ref":"II","t":32.8,"lo":54,"hi":59},{"ref":"II","t":36.7,"lo":54,"hi":60},{"ref":"II","t":37.4,"lo":54,"hi":60},{"ref":"II","t":39.8,"lo":54,"hi":57},{"ref":"II","t":41.9,"lo":54,"hi":60},{"ref":"II","t":42.7,"lo":54,"hi":62},{"ref":"II","t":45.3,"lo":54,"hi":60},{"ref":"II","t":47.3,"lo":54,"hi":56},{"ref":"II","t":49.9,"lo":54,"hi":59},{"ref":"II","t":52.3,"lo":54,"hi":59},{"ref":"II","t":54.0,"lo":54,"hi":61},{"ref":"II","t":55.1,"lo":54,"hi":63},{"ref":"II","t":56.0,"lo":54,"hi":65},{"ref":"II","t":57.2,"lo":54,"hi":55},{"ref":"II","t":57.9,"lo":54,"hi":55},{"ref":"II","t":62.8,"lo":54,"hi":61},{"ref":"II","t":63.8,"lo":54,"hi":56},{"ref":"II","t":65.6,"lo":54,"hi":58},{"ref":"II","t":66.3,"lo":54,"hi":60},{"ref":"II","t":67.0,"lo":54,"hi":60},{"ref":"II","t":67.7,"lo":54,"hi":57},{"ref":"II","t":71.2,"lo":54,"hi":59},{"ref":"II","t":74.0,"lo":54,"hi":56},{"ref":"II","t":74.6,"lo":54,"hi":57},{"ref":"II","t":76.2,"lo":54,"hi":57},{"ref":"II","t":77.9,"lo":54,"hi":56},{"ref":"II","t":80.1,"lo":54,"hi":56},{"ref":"II","t":81.2,"lo":54,"hi":56},{"ref":"II","t":82.0,"lo":54,"hi":57},{"ref":"II","t":83.0,"lo":54,"hi":56},{"ref":"II","t":84.3,"lo":54,"hi":57},{"ref":"II","t":85.7,"lo":54,"hi":58},{"ref":"II","t":86.9,"lo":54,"hi":56},
    {"ref":"B","t":23.8,"lo":75,"hi":80},{"ref":"B","t":25.1,"lo":75,"hi":95},{"ref":"B","t":27.9,"lo":75,"hi":78},{"ref":"B","t":28.3,"lo":75,"hi":80},{"ref":"B","t":28.7,"lo":75,"hi":87},{"ref":"B","t":29.8,"lo":75,"hi":85},{"ref":"B","t":30.6,"lo":75,"hi":81},{"ref":"B","t":33.3,"lo":75,"hi":83},{"ref":"B","t":35.4,"lo":75,"hi":79},{"ref":"B","t":36.5,"lo":75,"hi":80},{"ref":"B","t":37.5,"lo":75,"hi":80},{"ref":"B","t":39.0,"lo":75,"hi":79},{"ref":"B","t":39.5,"lo":75,"hi":78},{"ref":"B","t":40.0,"lo":75,"hi":78},{"ref":"B","t":41.7,"lo":75,"hi":76},{"ref":"B","t":43.6,"lo":75,"hi":87},{"ref":"B","t":44.4,"lo":75,"hi":84},{"ref":"B","t":45.8,"lo":75,"hi":77},{"ref":"B","t":46.6,"lo":75,"hi":78},{"ref":"B","t":47.3,"lo":75,"hi":78},{"ref":"B","t":48.6,"lo":75,"hi":88},{"ref":"B","t":49.4,"lo":75,"hi":78},{"ref":"B","t":50.7,"lo":75,"hi":78},{"ref":"B","t":51.2,"lo":75,"hi":77},{"ref":"B","t":51.7,"lo":75,"hi":78},{"ref":"B","t":52.8,"lo":75,"hi":81},{"ref":"B","t":53.4,"lo":75,"hi":79},{"ref":"B","t":54.4,"lo":75,"hi":77},{"ref":"B","t":55.4,"lo":75,"hi":77},{"ref":"B","t":56.0,"lo":75,"hi":78},{"ref":"B","t":56.4,"lo":75,"hi":77},{"ref":"B","t":57.4,"lo":75,"hi":79},{"ref":"B","t":57.9,"lo":75,"hi":82},{"ref":"B","t":58.4,"lo":75,"hi":83},{"ref":"B","t":58.9,"lo":75,"hi":80},{"ref":"B","t":59.5,"lo":75,"hi":77},{"ref":"B","t":60.4,"lo":75,"hi":77},{"ref":"B","t":61.1,"lo":75,"hi":80},{"ref":"B","t":61.6,"lo":75,"hi":79},{"ref":"B","t":62.1,"lo":75,"hi":79},{"ref":"B","t":62.6,"lo":75,"hi":80},{"ref":"B","t":63.4,"lo":75,"hi":78},{"ref":"B","t":64.9,"lo":75,"hi":79},{"ref":"B","t":65.7,"lo":75,"hi":80},{"ref":"B","t":67.2,"lo":75,"hi":81},{"ref":"B","t":68.0,"lo":75,"hi":82},{"ref":"B","t":68.8,"lo":75,"hi":78},{"ref":"B","t":70.1,"lo":75,"hi":76},{"ref":"B","t":71.7,"lo":75,"hi":77},{"ref":"B","t":72.9,"lo":75,"hi":77},{"ref":"B","t":73.9,"lo":75,"hi":77},{"ref":"B","t":74.6,"lo":75,"hi":78},{"ref":"B","t":75.3,"lo":75,"hi":78},{"ref":"B","t":76.0,"lo":75,"hi":79},{"ref":"B","t":76.7,"lo":75,"hi":78},{"ref":"B","t":78.0,"lo":75,"hi":77},{"ref":"B","t":78.8,"lo":75,"hi":78},{"ref":"B","t":79.7,"lo":75,"hi":77},{"ref":"B","t":80.5,"lo":75,"hi":77},{"ref":"B","t":81.3,"lo":75,"hi":78},{"ref":"B","t":82.0,"lo":75,"hi":79},{"ref":"B","t":82.7,"lo":75,"hi":78},{"ref":"B","t":83.5,"lo":75,"hi":78},{"ref":"B","t":84.7,"lo":75,"hi":77},{"ref":"B","t":85.5,"lo":75,"hi":77},{"ref":"B","t":86.7,"lo":75,"hi":77},{"ref":"B","t":88.9,"lo":75,"hi":76}
  ],
  "reflab": [
    {"ref":"B","t":90.9,"base":75},{"ref":"II","t":90.9,"base":54},{"ref":"R","t":90.9,"base":34},{"ref":"A","t":90.9,"base":13}
  ],
  "pla": [
    {"lab":"ϕ = 1.00","t":72.3,"y":327},{"lab":"ϕ = 0.90","t":72.3,"y":271},{"lab":"ϕ = 0.80","t":72.3,"y":227},{"lab":"ϕ = 0.70","t":72.3,"y":187},{"lab":"ϕ = 0.50","t":72.3,"y":141},{"lab":"ϕ = 0.35","t":72.3,"y":99}
  ],
  "plb": [
    {"lab":"ϕ = 2.50","t":72.4,"y":337},{"lab":"ϕ = 2.30","t":72.4,"y":303},{"lab":"ϕ = 2.00","t":72.4,"y":263},{"lab":"ϕ = 1.67","t":72.4,"y":224},{"lab":"ϕ = 1.50","t":72.4,"y":181},{"lab":"ϕ = 1.30","t":72.4,"y":138},{"lab":"ϕ = 1.10","t":72.4,"y":102}
  ],
  "boxa": [{"lab":"a","t":86.35,"y":382}],
  "boxb": [{"lab":"b","t":86.6,"y":381.5}]
},
"hconcat": [
  {
    "width": 279, "height": 394,
    "resolve": {"axis": {"x": "independent"}},
    "layer": [
      {"data": {"name": "ca"}, "mark": {"type": "line", "color": "black", "strokeWidth": 3.2, "strokeJoin": "round"},
       "encoding": {"x": {"field": "t", "type": "quantitative", "scale": {"domain": [20, 90], "nice": false, "zero": false},
                          "axis": {"orient": "bottom", "values": [20,30,40,50,60,70,80,90], "tickSize": -5, "labelPadding": 6, "labelFontSize": 13, "title": "2θ (°)", "titleFontSize": 14, "titlePadding": 4}},
                    "y": {"field": "y", "type": "quantitative", "scale": {"domain": [4, 398], "nice": false, "zero": false},
                          "axis": {"orient": "left", "title": "Int.¹⁄² (a.u.)", "labels": false, "ticks": false, "domain": true, "domainColor": "black", "titleFontSize": 14, "titlePadding": 5}},
                    "detail": {"field": "s", "type": "nominal"}}},
      {"data": {"name": "bases"}, "mark": {"type": "rule", "strokeWidth": 1.5, "opacity": 0.55},
       "encoding": {"y": {"field": "base", "type": "quantitative", "scale": {"domain": [4, 398], "nice": false, "zero": false}},
                    "color": {"field": "ref", "type": "nominal", "scale": {"domain": ["B","II","R","A"], "range": ["#a030f0","#22a022","#ff2020","#2040ff"]}, "legend": null}}},
      {"data": {"name": "sticks"}, "mark": {"type": "rule", "strokeWidth": 1.8},
       "encoding": {"x": {"field": "t", "type": "quantitative", "scale": {"domain": [20, 90], "nice": false, "zero": false},
                          "axis": {"orient": "bottom", "values": [22,24,26,28,32,34,36,38,42,44,46,48,52,54,56,58,62,64,66,68,72,74,76,78,82,84,86,88], "tickSize": -3, "labels": false, "title": null}},
                    "y": {"field": "lo", "type": "quantitative", "scale": {"domain": [4, 398], "nice": false, "zero": false}},
                    "y2": {"field": "hi"},
                    "color": {"field": "ref", "type": "nominal", "legend": null}}},
      {"data": {"name": "pla"}, "mark": {"type": "text", "align": "left", "baseline": "middle", "fontSize": 14, "font": "Liberation Serif"},
       "encoding": {"x": {"field": "t", "type": "quantitative", "scale": {"domain": [20, 90], "nice": false, "zero": false},
                          "axis": {"orient": "top", "values": [22,24,26,28,32,34,36,38,42,44,46,48,52,54,56,58,62,64,66,68,72,74,76,78,82,84,86,88], "tickSize": -3, "labels": false, "title": null}},
                    "y": {"field": "y", "type": "quantitative", "scale": {"domain": [4, 398], "nice": false, "zero": false}},
                    "text": {"field": "lab"}}},
      {"data": {"name": "reflab"}, "mark": {"type": "text", "align": "left", "baseline": "middle", "fontSize": 15, "font": "Liberation Serif"},
       "encoding": {"x": {"field": "t", "type": "quantitative", "scale": {"domain": [20, 90], "nice": false, "zero": false},
                          "axis": {"orient": "top", "values": [30,40,50,60,70,80], "tickSize": -5, "labels": false, "title": null}},
                    "y": {"field": "base", "type": "quantitative", "scale": {"domain": [4, 398], "nice": false, "zero": false}},
                    "color": {"field": "ref", "type": "nominal", "legend": null},
                    "text": {"field": "ref"}}},
      {"data": {"name": "boxa"}, "mark": {"type": "point", "shape": "square", "size": 500, "filled": true, "fill": "white", "stroke": "#888888", "strokeWidth": 1.5, "opacity": 1},
       "encoding": {"x": {"field": "t", "type": "quantitative", "scale": {"domain": [20, 90], "nice": false, "zero": false}, "axis": null},
                    "y": {"field": "y", "type": "quantitative", "scale": {"domain": [4, 398], "nice": false, "zero": false}}}},
      {"data": {"name": "boxa"}, "mark": {"type": "text", "align": "center", "baseline": "middle", "fontSize": 15, "fontWeight": "bold", "font": "Liberation Sans"},
       "encoding": {"x": {"field": "t", "type": "quantitative", "scale": {"domain": [20, 90], "nice": false, "zero": false}, "axis": null},
                    "y": {"field": "y", "type": "quantitative", "scale": {"domain": [4, 398], "nice": false, "zero": false}},
                    "text": {"field": "lab"}}}
    ]
  },
  {
    "width": 278, "height": 394,
    "resolve": {"axis": {"x": "independent"}},
    "layer": [
      {"data": {"name": "bases"}, "mark": {"type": "rule", "strokeWidth": 1.5, "opacity": 0.55},
       "encoding": {"y": {"field": "base", "type": "quantitative", "scale": {"domain": [4, 398], "nice": false, "zero": false}, "axis": null},
                    "color": {"field": "ref", "type": "nominal", "scale": {"domain": ["B","II","R","A"], "range": ["#a030f0","#22a022","#ff2020","#2040ff"]}, "legend": null}}},
      {"data": {"name": "sticks"}, "mark": {"type": "rule", "strokeWidth": 1.8},
       "encoding": {"x": {"field": "t", "type": "quantitative", "scale": {"domain": [20, 90], "nice": false, "zero": false},
                          "axis": {"orient": "bottom", "values": [22,24,26,28,32,34,36,38,42,44,46,48,52,54,56,58,62,64,66,68,72,74,76,78,82,84,86,88], "tickSize": -3, "labels": false, "title": null}},
                    "y": {"field": "lo", "type": "quantitative", "scale": {"domain": [4, 398], "nice": false, "zero": false}, "axis": null},
                    "y2": {"field": "hi"},
                    "color": {"field": "ref", "type": "nominal", "legend": null}}},
      {"data": {"name": "cb"}, "mark": {"type": "line", "color": "black", "strokeWidth": 3.2, "strokeJoin": "round"},
       "encoding": {"x": {"field": "t", "type": "quantitative", "scale": {"domain": [20, 90], "nice": false, "zero": false},
                          "axis": {"orient": "bottom", "values": [20,30,40,50,60,70,80,90], "tickSize": -5, "labelPadding": 6, "labelFontSize": 13, "title": "2θ (°)", "titleFontSize": 14, "titlePadding": 4}},
                    "y": {"field": "y", "type": "quantitative", "scale": {"domain": [4, 398], "nice": false, "zero": false}, "axis": null},
                    "detail": {"field": "s", "type": "nominal"}}},
      {"data": {"name": "plb"}, "mark": {"type": "text", "align": "left", "baseline": "middle", "fontSize": 14, "font": "Liberation Serif"},
       "encoding": {"x": {"field": "t", "type": "quantitative", "scale": {"domain": [20, 90], "nice": false, "zero": false},
                          "axis": {"orient": "top", "values": [22,24,26,28,32,34,36,38,42,44,46,48,52,54,56,58,62,64,66,68,72,74,76,78,82,84,86,88], "tickSize": -3, "labels": false, "title": null}},
                    "y": {"field": "y", "type": "quantitative", "scale": {"domain": [4, 398], "nice": false, "zero": false}, "axis": null},
                    "text": {"field": "lab"}}},
      {"data": {"name": "reflab"}, "mark": {"type": "text", "align": "left", "baseline": "middle", "fontSize": 15, "font": "Liberation Serif"},
       "encoding": {"x": {"field": "t", "type": "quantitative", "scale": {"domain": [20, 90], "nice": false, "zero": false},
                          "axis": {"orient": "top", "values": [30,40,50,60,70,80], "tickSize": -5, "labels": false, "title": null}},
                    "y": {"field": "base", "type": "quantitative", "scale": {"domain": [4, 398], "nice": false, "zero": false}, "axis": null},
                    "color": {"field": "ref", "type": "nominal", "legend": null},
                    "text": {"field": "ref"}}},
      {"data": {"name": "boxb"}, "mark": {"type": "point", "shape": "square", "size": 500, "filled": true, "fill": "white", "stroke": "#888888", "strokeWidth": 1.5, "opacity": 1},
       "encoding": {"x": {"field": "t", "type": "quantitative", "scale": {"domain": [20, 90], "nice": false, "zero": false}, "axis": null},
                    "y": {"field": "y", "type": "quantitative", "scale": {"domain": [4, 398], "nice": false, "zero": false}, "axis": null}}},
      {"data": {"name": "boxb"}, "mark": {"type": "text", "align": "center", "baseline": "middle", "fontSize": 15, "fontWeight": "bold", "font": "Liberation Sans"},
       "encoding": {"x": {"field": "t", "type": "quantitative", "scale": {"domain": [20, 90], "nice": false, "zero": false}, "axis": null},
                    "y": {"field": "y", "type": "quantitative", "scale": {"domain": [4, 398], "nice": false, "zero": false}, "axis": null},
                    "text": {"field": "lab"}}}
    ]
  }
]
}
